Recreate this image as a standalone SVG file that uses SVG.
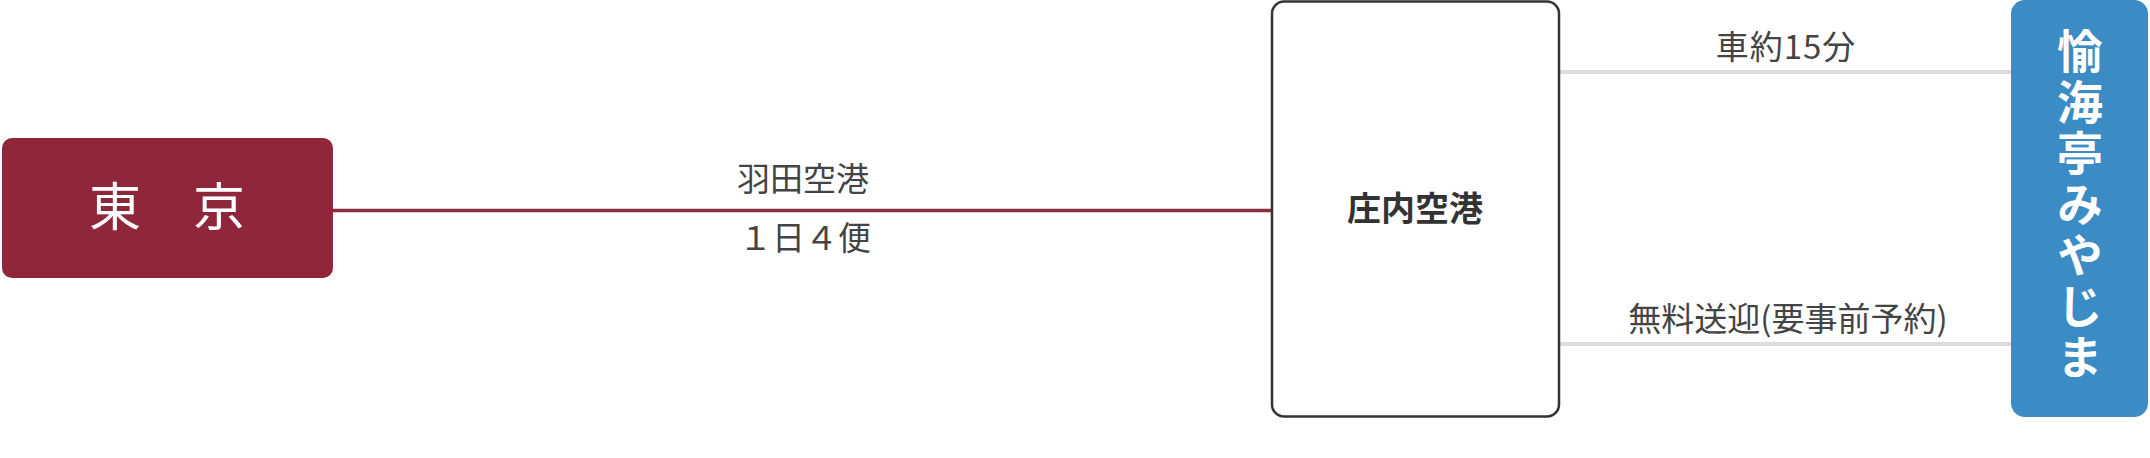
<svg xmlns="http://www.w3.org/2000/svg" width="2150" height="458" viewBox="0 0 2150 458">
<style>
.lbl{font-family:"Liberation Serif","Noto Sans CJK JP",serif;font-size:33px;fill:#444;text-anchor:middle}
.sans{font-family:"Noto Sans CJK JP","Noto Sans",sans-serif;font-size:33px;fill:#444;text-anchor:middle}
.vert{font-family:"Noto Sans CJK JP",sans-serif;font-size:46px;font-weight:bold;fill:#fff;writing-mode:vertical-rl;letter-spacing:5px}
</style>
<rect width="2150" height="458" fill="#fff"/>
<g id="connectors">
<line x1="333" y1="210.5" x2="1272" y2="210.5" stroke="#8a2e42" stroke-width="3.5"/>
<line x1="1559" y1="72" x2="2011" y2="72" stroke="#dcdcdc" stroke-width="4"/>
<line x1="1559" y1="344" x2="2011" y2="344" stroke="#dcdcdc" stroke-width="4"/>
<text class="lbl" x="803" y="191">羽田空港</text>
<text class="lbl" x="805" y="250">１日４便</text>
<text class="sans" x="1786" y="59" letter-spacing="1">車約15分</text>
<text class="sans" x="1788" y="331">無料送迎(要事前予約)</text>
</g>
<g id="node-tokyo">
<rect x="2" y="138" width="331" height="140" rx="10" fill="#8f2639"/>
<text x="167" y="226" font-family="Liberation Serif, Noto Sans CJK JP, serif" font-size="52" fill="#fff" text-anchor="middle">東　京</text>
</g>
<g id="node-shonai">
<rect x="1272" y="1.5" width="287" height="415" rx="12" fill="#fff" stroke="#333" stroke-width="2.5"/>
<text x="1415" y="221" font-family="Noto Sans CJK JP, sans-serif" font-size="34" font-weight="bold" fill="#333" text-anchor="middle">庄内空港</text>
</g>
<g id="node-yukaitei">
<rect x="2011" y="0" width="137" height="417" rx="14" fill="#3b8bc4"/>
<text class="vert" x="2080" y="28">愉海亭みやじま</text>
</g>
</svg>
